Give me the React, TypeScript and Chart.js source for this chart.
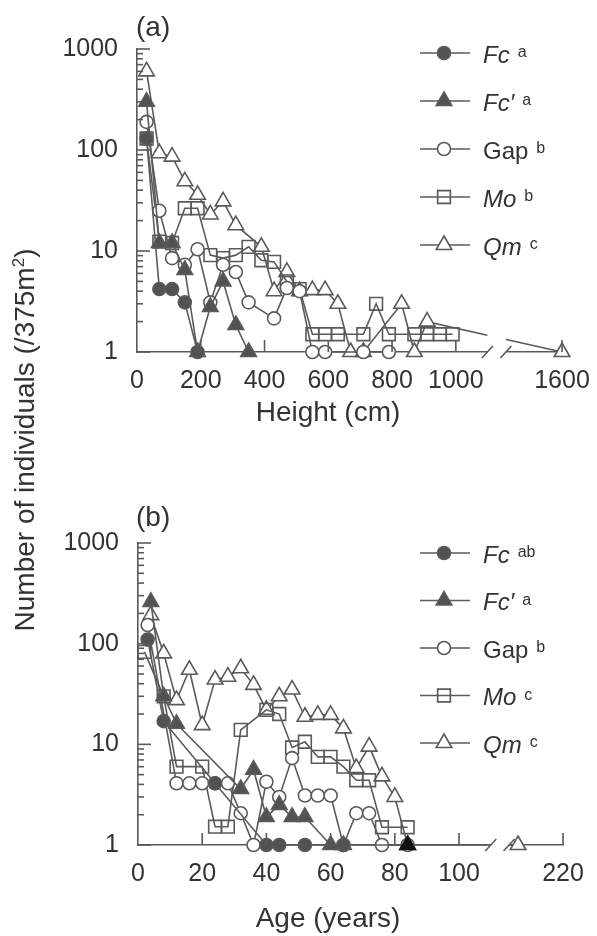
import React, { useEffect, useRef } from 'react';
import { Chart, registerables } from 'chart.js';

Chart.register(...registerables);

const FONT = '"Liberation Sans", Arial, Helvetica, sans-serif';
const LINE = '#5a5a5a';
const FILL = '#525252';
const TEXT = '#333333';

// ---------- Panel (a): height classes (cm) ----------
const aFcX = [30, 70, 110, 150, 190];
const aFcY = [130, 4.2, 4.2, 3.1, 1];
const aFcpX = [30, 70, 110, 150, 190, 230, 270, 310, 350];
const aFcpY = [300, 12, 12, 6.5, 1, 2.8, 5, 1.85, 1];
const aGapX = [30, 70, 110, 150, 190, 230, 270, 310, 350, 430, 470, 510, 550, 590, 710, 790];
const aGapY = [190, 25, 8.5, 7.3, 10.4, 3.1, 7.3, 6.2, 3.1, 2.15, 4.3, 4.0, 1, 1, 1, 1];
const aMoX = [30, 70, 110, 150, 190, 230, 270, 310, 350, 390, 430, 470, 510, 550, 590, 630, 710, 750, 790, 870, 910, 950, 990];
const aMoY = [130, 12.4, 12, 26.5, 26.5, 9.1, 8.5, 9.1, 11, 8.1, 7.8, 5, 4.2, 1.5, 1.5, 1.5, 1.5, 3, 1.5, 1.5, 1.5, 1.5, 1.5];
const aQmX = [30, 70, 110, 150, 190, 230, 270, 310, 390, 430, 470, 510, 550, 590, 630, 670, 710, 830, 870, 910, 1600];
const aQmY = [600, 93, 86, 49, 36, 23, 31, 18, 11, 4, 6.2, 4, 4.1, 4.1, 3, 1, 1, 3, 1, 2, 1];
const aXTicks = [0, 200, 400, 600, 800, 1000, 1600];
const aSups = ['a', 'a', 'b', 'b', 'c'];

// ---------- Panel (b): age classes (years) ----------
const bFcX = [3, 8, 24, 40, 44, 52, 64];
const bFcY = [110, 17, 4.1, 1, 1, 1, 1];
const bFcpX = [4, 8, 12, 32, 36, 40, 44, 48, 52, 60, 64, 84];
const bFcpY = [260, 30, 16, 3.6, 5.6, 1.9, 2.5, 1.9, 1.9, 1, 1, 1];
const bGapX = [3, 12, 16, 20, 24, 28, 32, 36, 40, 44, 48, 52, 56, 60, 64, 68, 72, 76, 84];
const bGapY = [153, 4.1, 4.1, 4.1, 4.1, 4.1, 2.07, 1, 4.25, 3.0, 7.3, 3.1, 3.1, 3.1, 1, 2.07, 2.07, 1, 1];
const bMoX = [2, 8, 12, 20, 24, 28, 32, 40, 44, 48, 52, 56, 60, 64, 68, 72, 76, 84];
const bMoY = [83, 30, 6, 6, 1.52, 1.52, 13.9, 22, 20, 9.3, 10.6, 7.5, 7.5, 6, 4.4, 4.4, 1.5, 1.5];
const bQmX = [4, 8, 12, 16, 20, 24, 28, 32, 36, 40, 44, 48, 52, 56, 60, 64, 68, 72, 76, 80, 84, 206];
const bQmY = [192, 80, 27.5, 55, 15.5, 44, 47, 57, 39, 22, 30, 35, 18.8, 19.6, 19.6, 14.4, 5.8, 9.5, 4.8, 3.0, 1, 1];
const bXTicks = [0, 20, 40, 60, 80, 100, 220];
const bSups = ['ab', 'a', 'b', 'c', 'c'];

const speciesNames = ['Fc', 'Fc\u2032', 'Gap', 'Mo', 'Qm'];
const speciesItalic = [true, true, false, true, true];
const yTicks = [1, 10, 100, 1000];

type Style = 'circle' | 'triangle' | 'rect';
const markerStyles: Style[] = ['circle', 'triangle', 'circle', 'rect', 'triangle'];
const markerFilled = [true, true, false, false, false];

function drawMarker(ctx: CanvasRenderingContext2D, style: Style, x: number, y: number, filled: boolean) {
  ctx.beginPath();
  if (style === 'circle') ctx.arc(x, y, 6.5, 0, Math.PI * 2);
  else if (style === 'rect') {
    const h = 9 * Math.SQRT1_2;
    ctx.rect(x - h, y - h, 2 * h, 2 * h);
  } else {
    const r = 9;
    const s = Math.sin((2 * Math.PI) / 3) * r;
    ctx.moveTo(x, y - r);
    ctx.lineTo(x + s, y + r * 0.5);
    ctx.lineTo(x - s, y + r * 0.5);
    ctx.closePath();
  }
  if (filled) {
    ctx.fillStyle = FILL;
    ctx.fill();
  } else if (style !== 'rect') {
    ctx.fillStyle = '#fff';
    ctx.fill();
  }
  ctx.strokeStyle = LINE;
  ctx.lineWidth = 1.6;
  ctx.stroke();
}

function makePanel(canvas: HTMLCanvasElement, p: any) {
  const toD = (v: number) => (v > p.cut ? v - p.shift : v);
  const series = [
    [p.fcX, p.fcY],
    [p.fcpX, p.fcpY],
    [p.gapX, p.gapY],
    [p.moX, p.moY],
    [p.qmX, p.qmY],
  ];
  const datasets = series.map(([xs, ys], k) => ({
    label: speciesNames[k],
    data: xs.map((x: number, i: number) => ({ x: toD(x), y: ys[i] })),
    borderColor: LINE,
    borderWidth: 1.6,
    pointStyle: markerStyles[k],
    pointRadius: markerStyles[k] === 'circle' ? 6.5 : 9,
    pointBorderWidth: 1.6,
    pointBorderColor: (c: any) => (p.darkLast && k === 1 && c.dataIndex === xs.length - 1 ? '#111' : LINE),
    pointBackgroundColor: (c: any) => {
      if (p.darkLast && k === 1 && c.dataIndex === xs.length - 1) return '#111';
      if (markerFilled[k]) return FILL;
      return markerStyles[k] === 'rect' ? 'rgba(0,0,0,0)' : '#fff';
    },
    fill: false,
    tension: 0,
    clip: false,
  }));

  const decor = {
    id: 'decor',
    afterDatasetsDraw(chart: any) {
      const { ctx, chartArea: ca } = chart;
      const xs = chart.scales.x;
      const ys = chart.scales.y;
      ctx.save();
      const line = (x0: number, y0: number, x1: number, y1: number) => {
        ctx.beginPath();
        ctx.moveTo(x0, y0);
        ctx.lineTo(x1, y1);
        ctx.stroke();
      };
      // axis break
      const b0 = xs.getPixelForValue(p.breakAt[0]);
      const b1 = xs.getPixelForValue(p.breakAt[1]);
      ctx.fillStyle = '#fff';
      ctx.fillRect(b0, ca.top, b1 - b0, ca.bottom - ca.top + 3);
      ctx.strokeStyle = LINE;
      ctx.lineWidth = 1.6;
      for (const c of [b0, b1]) line(c - 5.5, ca.bottom + 6, c + 5.5, ca.bottom - 6);
      // y ticks (inward)
      for (const d of [1, 10, 100]) {
        for (let m = 2; m <= 9; m++) {
          const py = ys.getPixelForValue(m * d);
          line(ca.left, py, ca.left + 6, py);
        }
      }
      for (const v of yTicks) {
        const py = ys.getPixelForValue(v);
        line(ca.left, py, ca.left + 13, py);
      }
      // x ticks (inward)
      for (const v of p.xTicks) {
        if (v === 0) continue;
        const px = xs.getPixelForValue(toD(v));
        line(px, ca.bottom, px, ca.bottom - 12);
      }
      // legend
      speciesNames.forEach((name, i) => {
        const y = p.legendTop + i * p.legendStep;
        ctx.strokeStyle = LINE;
        ctx.lineWidth = 1.6;
        line(420, y, 470, y);
        drawMarker(ctx, markerStyles[i], 444, y, markerFilled[i]);
        ctx.fillStyle = TEXT;
        ctx.textAlign = 'left';
        ctx.textBaseline = 'alphabetic';
        ctx.font = `${speciesItalic[i] ? 'italic ' : ''}24px ${FONT}`;
        ctx.fillText(name, 483, y + 9.5);
        const w = ctx.measureText(name).width;
        ctx.font = `16px ${FONT}`;
        ctx.fillText(p.sups[i], 483 + w + 8, y + 4);
      });
      // axis title and panel label
      ctx.fillStyle = TEXT;
      ctx.font = `28px ${FONT}`;
      ctx.textAlign = 'center';
      ctx.fillText(p.xTitle, 328, p.titleBaseline);
      ctx.textAlign = 'left';
      ctx.fillText(p.panelLabel, 136, p.labelBaseline);
      ctx.restore();
    },
  };

  return new Chart(canvas, {
    type: 'line',
    data: { datasets },
    plugins: [decor],
    options: {
      responsive: false,
      animation: false,
      layout: { padding: p.padding },
      plugins: { legend: { display: false }, tooltip: { enabled: false } },
      scales: {
        x: {
          type: 'linear',
          min: 0,
          max: toD(p.xTicks[p.xTicks.length - 1]),
          grid: { display: false, drawTicks: false },
          border: { display: true, color: LINE, width: 1.6 },
          ticks: {
            autoSkip: false,
            maxRotation: 0,
            padding: 14,
            color: TEXT,
            font: { family: FONT, size: 25 },
            callback: (_v: any, i: number) => String(p.xTicks[i]),
          },
          afterBuildTicks: (s: any) => {
            s.ticks = p.xTicks.map((v: number) => ({ value: toD(v) }));
          },
          afterFit: (s: any) => {
            s.height = 60;
            s.paddingLeft = 0;
            s.paddingRight = 0;
          },
        },
        y: {
          type: 'logarithmic',
          min: 1,
          max: 1000,
          grid: { display: false, drawTicks: false },
          border: { display: true, color: LINE, width: 1.6 },
          ticks: {
            autoSkip: false,
            padding: 19,
            color: TEXT,
            font: { family: FONT, size: 25 },
            callback: (v: any) => String(v),
          },
          afterBuildTicks: (s: any) => {
            s.ticks = yTicks.map((v) => ({ value: v }));
          },
          afterFit: (s: any) => {
            s.width = 100;
            s.paddingTop = 0;
            s.paddingBottom = 0;
          },
        },
      },
    },
  } as any);
}

const panelA = {
  fcX: aFcX, fcY: aFcY, fcpX: aFcpX, fcpY: aFcpY, gapX: aGapX, gapY: aGapY,
  moX: aMoX, moY: aMoY, qmX: aQmX, qmY: aQmY,
  xTicks: aXTicks, sups: aSups, cut: 1100, shift: 267, breakAt: [1099, 1157],
  xTitle: 'Height (cm)', panelLabel: '(a)', titleBaseline: 421, labelBaseline: 36,
  legendTop: 53, legendStep: 48, darkLast: false,
  padding: { left: 37, right: 35, top: 49, bottom: 48 },
};

const panelB = {
  fcX: bFcX, fcY: bFcY, fcpX: bFcpX, fcpY: bFcpY, gapX: bGapX, gapY: bGapY,
  moX: bMoX, moY: bMoY, qmX: bQmX, qmY: bQmY,
  xTicks: bXTicks, sups: bSups, cut: 110, shift: 87.6, breakAt: [109.9, 115.6],
  xTitle: 'Age (years)', panelLabel: '(b)', titleBaseline: 457, labelBaseline: 56,
  legendTop: 83, legendStep: 47.5, darkLast: true,
  padding: { left: 38, right: 34, top: 73, bottom: 31 },
};

export default function App() {
  const refA = useRef<HTMLCanvasElement>(null);
  const refB = useRef<HTMLCanvasElement>(null);
  useEffect(() => {
    const a = makePanel(refA.current!, panelA);
    const b = makePanel(refB.current!, panelB);
    return () => {
      a.destroy();
      b.destroy();
    };
  }, []);
  return (
    <div style={{ position: 'absolute', left: 0, top: 0, width: 597, height: 936, background: '#fff', overflow: 'hidden' }}>
      <canvas ref={refA} width={597} height={460} style={{ position: 'absolute', left: 0, top: 0, width: 597, height: 460 }} />
      <canvas ref={refB} width={597} height={466} style={{ position: 'absolute', left: 0, top: 470, width: 597, height: 466 }} />
      <div
        style={{
          position: 'absolute',
          left: 25 - 250,
          top: 440 - 16,
          width: 500,
          height: 32,
          lineHeight: '32px',
          textAlign: 'center',
          transform: 'rotate(-90deg)',
          fontFamily: FONT,
          fontSize: 28,
          color: TEXT,
          whiteSpace: 'nowrap',
        }}
      >
        Number of individuals (/375m<sup style={{ fontSize: 17, lineHeight: 0 }}>2</sup>)
      </div>
    </div>
  );
}
